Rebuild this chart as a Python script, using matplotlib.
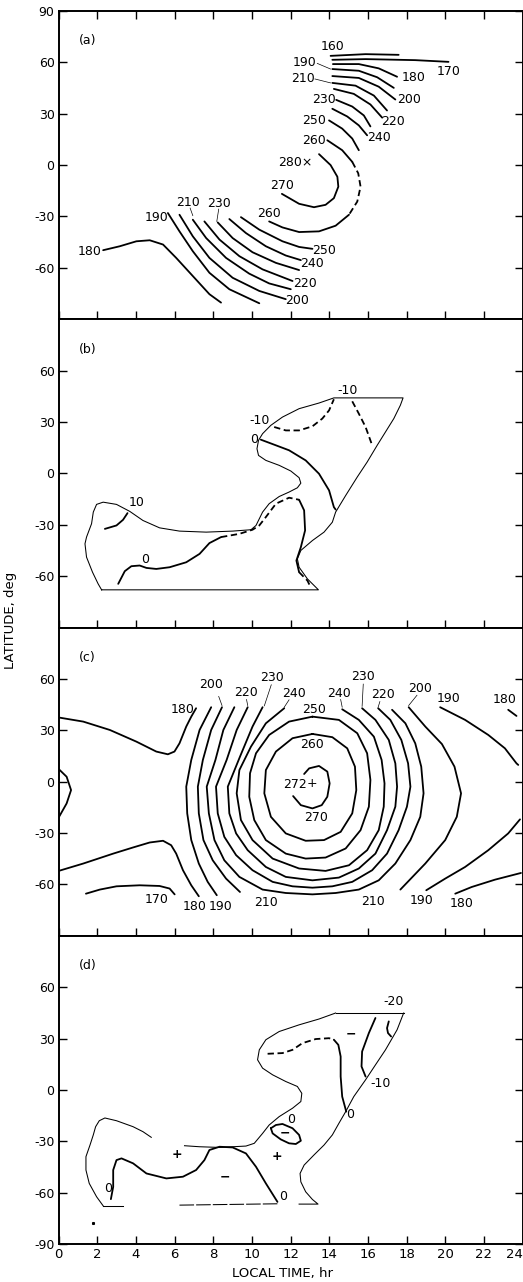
import numpy as np
import matplotlib
matplotlib.use('Agg')
import matplotlib.pyplot as plt

plt.rcParams['font.family'] = ['DejaVu Sans']

# ---------------- panel (a): temperature contours (K), points are (local time hr, latitude deg)
a_160 = [(14.07, 63.8), (15.88, 64.8), (17.59, 64.4)]
a_170 = [(14.16, 61.5), (15.88, 61.9), (18.45, 61.3), (20.17, 60.3)]
a_180 = [(14.19, 59.0), (15.53, 59.0), (16.56, 56.5), (17.51, 51.6)]
a_190 = [(14.16, 56.1), (15.53, 55.1), (16.48, 51.3), (17.34, 45.1)]
a_200 = [(14.16, 52.0), (15.53, 50.9), (16.56, 45.8), (17.42, 38.3)]
a_210 = [(14.16, 48.0), (15.36, 46.4), (16.31, 40.6), (16.99, 31.9)]
a_220 = [(14.24, 44.5), (15.27, 41.6), (16.13, 35.4), (16.74, 27.7)]
a_230 = [(14.36, 38.1), (15.19, 34.2), (15.79, 29.0), (16.13, 22.6)]
a_240 = [(14.16, 32.9), (14.93, 28.4), (15.53, 23.2), (15.96, 17.4)]
a_250 = [(13.99, 26.1), (14.67, 21.3), (15.19, 15.5), (15.53, 8.7)]
a_260_top = [(13.90, 14.5), (14.67, 8.7), (15.19, 1.9)]
a_260_gap = [(15.19, 1.9), (15.50, -4.8), (15.62, -12.6), (15.45, -21.3), (15.02, -29.0)]
a_260_bot = [(15.02, -29.0), (14.33, -35.4), (13.47, -38.7), (12.44, -39.1), (11.58, -36.4), (10.89, -32.9)]
a_270 = [(13.47, 6.4), (14.07, 0.0), (14.42, -6.8), (14.47, -12.6), (14.24, -19.3),
         (13.81, -23.2), (13.21, -24.6), (12.44, -22.6), (11.55, -16.8)]
a_s180 = [(2.30, -49.7), (3.16, -47.4), (4.02, -44.5), (4.71, -43.9), (5.40, -46.4),
          (6.08, -54.2), (6.94, -64.8), (7.80, -75.4), (8.40, -80.3)]
a_s190 = [(5.65, -28.0), (6.25, -38.7), (6.94, -50.3), (7.80, -62.9), (8.83, -72.5), (10.38, -80.7)]
a_s200 = [(6.25, -29.0), (6.94, -41.6), (7.80, -54.2), (9.00, -65.8), (10.38, -73.5), (11.75, -78.3)]
a_s210 = [(6.94, -31.9), (7.63, -42.6), (8.66, -54.2), (9.86, -63.4), (10.89, -69.1), (12.01, -72.5)]
a_s220 = [(7.54, -32.9), (8.32, -43.5), (9.35, -53.2), (10.55, -60.9), (12.10, -67.7)]
a_s230 = [(8.23, -33.5), (9.00, -42.6), (10.03, -50.9), (11.24, -57.1), (12.44, -61.3)]
a_s240 = [(8.83, -31.5), (9.69, -39.7), (10.72, -47.4), (11.75, -52.8), (12.53, -55.5)]
a_s250 = [(9.43, -30.4), (10.38, -37.7), (11.58, -44.5), (12.44, -47.8), (13.13, -48.9)]
a_leaders = [[(13.38, 59.4), (14.07, 56.1)], [(13.26, 50.3), (14.07, 48.0)],
             [(6.80, -25.1), (6.94, -29.5)], [(8.28, -25.7), (8.18, -32.9)]]
a_labels = [('160', 14.16, 69.1), ('190', 12.70, 60.0), ('210', 12.65, 50.7), ('170', 20.17, 54.5),
            ('180', 18.37, 50.9), ('200', 18.11, 38.1), ('230', 13.73, 38.3), ('220', 17.28, 25.7),
            ('250', 13.21, 26.1), ('240', 16.56, 16.1), ('260', 13.21, 14.5), ('280\u00d7', 12.25, 1.5),
            ('270', 11.58, -12.0), ('260', 10.89, -28.0), ('210', 6.68, -21.9), ('230', 8.32, -22.2),
            ('190', 5.05, -30.6), ('180', 1.62, -50.3), ('250', 13.73, -49.7), ('240', 13.13, -57.6),
            ('220', 12.75, -69.1), ('200', 12.35, -79.3)]

# ---------------- panel (b): differences
b_edge = [(2.22, -68.0), (13.44, -68.0), (12.87, -61.6), (12.44, -54.8), (12.35, -49.9), (12.53, -45.0),
          (13.13, -39.2), (13.73, -34.3), (14.16, -28.5), (14.33, -22.6), (14.85, -12.9), (15.45, -2.1),
          (15.96, 6.6), (16.48, 16.4), (16.91, 24.2), (17.34, 32.0), (17.68, 39.8), (17.82, 44.1),
          (14.24, 44.1), (13.47, 41.1), (12.44, 37.8), (11.58, 32.9), (10.98, 28.1), (10.55, 23.2),
          (10.34, 19.3), (10.26, 14.4), (10.34, 10.5), (10.72, 7.6), (11.41, 4.7), (12.01, 1.4),
          (12.44, -2.5), (12.53, -5.7), (12.35, -8.4), (11.92, -10.9), (11.41, -13.5), (10.89, -17.7),
          (10.55, -22.6), (10.21, -30.4), (9.95, -32.9), (9.00, -33.7), (7.63, -34.3), (6.25, -33.7),
          (5.22, -31.8), (4.36, -27.5), (3.68, -22.2), (2.99, -18.1), (2.30, -16.8), (1.96, -18.1),
          (1.79, -22.6), (1.70, -29.4), (1.44, -37.2), (1.36, -41.1), (1.44, -48.9), (1.75, -57.7),
          (2.04, -64.5), (2.22, -68.0)]
b_p10 = [(2.39, -32.4), (2.99, -30.4), (3.33, -27.1), (3.56, -23.2)]
b_0_low = [(3.08, -64.5), (3.42, -57.1), (3.76, -54.2), (4.19, -53.8), (4.54, -55.2), (5.05, -55.8),
           (5.74, -54.8), (6.60, -51.9), (7.29, -47.0), (7.80, -40.7), (8.40, -37.2)]
b_0_dash = [(8.40, -37.2), (9.35, -35.3), (10.03, -32.9), (10.38, -30.4), (10.72, -25.5),
            (11.24, -17.7), (11.92, -14.2), (12.44, -15.4)]
b_0_arm = [(12.44, -15.4), (12.70, -21.6), (12.75, -33.3), (12.53, -43.1), (12.30, -50.9), (12.44, -57.7)]
b_0_tail = [(12.44, -57.7), (12.87, -62.6), (13.04, -66.5)]
b_0_up = [(10.46, 19.7), (11.24, 16.4), (11.92, 13.5), (12.78, 7.6), (13.47, -0.2), (13.99, -9.9),
          (14.24, -19.7), (14.33, -21.1)]
b_m10_left = [(11.15, 27.1), (11.75, 25.1), (12.44, 25.1), (13.13, 27.5), (13.64, 32.0), (13.99, 36.8),
              (14.24, 43.3)]
b_m10_right = [(15.19, 42.1), (15.53, 34.9), (15.88, 27.1), (16.18, 17.7)]
b_labels = [('10', 4.02, -16.8), ('0', 4.48, -50.5), ('0', 10.12, 19.9), ('-10', 10.38, 31.0),
            ('-10', 14.93, 48.5)]

# ---------------- panel (c): model temperature contours
c_180_up = [(0.0, 37.5), (1.27, 35.1), (2.65, 30.2), (4.02, 23.4), (5.05, 17.6), (5.65, 16.0),
            (5.99, 17.6), (6.25, 22.4), (6.60, 32.2), (6.86, 38.0), (7.11, 42.9)]
c_180_low = [(0.0, -52.1), (1.27, -47.8), (2.82, -42.0), (3.85, -38.4), (4.71, -35.5), (5.40, -34.5),
             (5.82, -37.1), (6.08, -42.0), (6.43, -51.7), (6.86, -60.5), (7.25, -66.9)]
c_lobe = [(0.0, 7.4), (0.41, 2.9), (0.64, -4.9), (0.41, -12.7), (0.0, -20.9)]
c_170 = [(1.41, -65.4), (2.13, -63.0), (2.99, -61.1), (4.19, -60.5), (5.22, -60.9), (5.74, -62.4),
         (6.00, -65.8)]
c_190_l = [(7.89, 43.5), (7.29, 30.2), (6.86, 12.7), (6.60, -2.9), (6.65, -18.5), (6.86, -34.1),
           (7.25, -47.8), (7.71, -58.5), (8.18, -66.3)]
c_200_l = [(8.45, 43.5), (7.89, 30.2), (7.46, 12.7), (7.20, -2.9), (7.25, -18.5), (7.49, -34.1),
           (7.97, -45.9), (8.66, -56.6), (9.38, -64.4)]
c_210 = [(9.09, 43.5), (8.52, 30.2), (8.11, 12.7), (7.66, -2.9), (7.77, -18.5), (8.06, -34.1),
         (8.57, -45.9), (9.35, -55.6), (10.55, -63.0), (11.75, -65.0), (13.13, -65.8), (14.33, -65.0),
         (15.53, -63.0), (16.56, -57.6), (17.42, -47.8), (18.20, -34.1), (18.71, -20.5), (18.88, -6.8),
         (18.76, 8.8), (18.45, 22.4), (17.94, 34.1), (17.25, 42.0)]
c_220 = [(9.78, 43.5), (9.21, 30.2), (8.69, 12.7), (8.14, -2.9), (8.23, -18.5), (8.57, -32.2),
         (9.18, -42.9), (10.03, -51.7), (11.07, -58.5), (12.10, -61.1), (13.13, -61.9), (14.16, -61.1),
         (15.19, -58.5), (16.22, -51.7), (16.99, -42.0), (17.59, -28.3), (18.02, -14.6), (18.20, -2.9),
         (18.08, 10.7), (17.73, 24.4), (17.16, 36.1), (16.53, 42.9)]
c_230 = [(10.55, 43.5), (10.03, 32.2), (9.38, 14.6), (8.75, -2.9), (8.83, -18.5), (9.18, -30.2),
         (9.78, -40.0), (10.72, -49.8), (11.75, -55.6), (13.13, -57.6), (14.50, -56.0), (15.53, -50.7),
         (16.39, -42.0), (16.99, -28.3), (17.42, -14.6), (17.51, -2.9), (17.42, 10.7), (17.08, 24.4),
         (16.39, 36.1), (15.70, 42.9)]
c_240 = [(11.67, 42.9), (10.72, 34.1), (9.95, 20.5), (9.35, 6.8), (9.21, -6.8), (9.43, -22.4),
         (10.03, -34.1), (11.07, -44.9), (12.44, -50.7), (13.81, -52.1), (15.02, -48.8), (15.96, -40.0),
         (16.56, -28.3), (16.82, -14.6), (16.86, -1.0), (16.71, 12.7), (16.31, 26.3), (15.53, 36.1),
         (14.67, 42.3)]
c_250 = [(13.13, 38.0), (14.50, 36.1), (15.45, 28.3), (15.96, 16.6), (16.13, 1.0), (16.05, -14.6),
         (15.62, -28.3), (14.85, -39.0), (13.81, -44.3), (12.78, -44.9), (11.75, -42.0), (10.72, -34.1),
         (10.12, -22.4), (9.86, -8.8), (9.90, 4.9), (10.21, 16.6), (10.89, 27.3), (11.92, 35.1),
         (13.13, 38.0)]
c_260 = [(13.13, 27.9), (14.16, 26.0), (14.93, 19.5), (15.33, 8.8), (15.40, -4.9), (15.19, -18.5),
         (14.59, -29.3), (13.73, -34.1), (12.78, -34.5), (11.75, -30.2), (10.98, -20.5), (10.64, -6.8),
         (10.72, 6.8), (11.24, 17.6), (12.10, 25.4), (13.13, 27.9)]
c_270 = [(12.70, 4.5), (12.96, 7.8), (13.47, 9.2), (13.90, 5.9), (14.02, -1.0), (13.90, -8.8),
         (13.61, -13.7), (13.13, -15.6), (12.53, -13.7), (12.13, -8.4)]
c_200_r = [(18.11, 43.5), (18.97, 32.2), (19.83, 22.0), (20.48, 8.8), (20.82, -6.8), (20.60, -20.5),
           (20.00, -34.1), (18.97, -47.8), (17.68, -63.0)]
c_190_r_up = [(19.74, 43.5), (21.03, 36.1), (22.23, 27.3), (23.09, 19.5), (23.69, 10.7), (23.78, 9.8)]
c_190_r_low = [(23.87, -22.0), (23.26, -30.2), (22.23, -40.0), (21.03, -49.8), (20.00, -56.6),
               (19.02, -63.4)]
c_180_r_up = [(23.26, 42.0), (23.69, 38.4)]
c_180_r_low = [(20.52, -65.4), (21.37, -61.5), (22.58, -57.2), (23.92, -53.3)]
c_leaders = [[(8.28, 49.8), (8.45, 44.5)], [(9.72, 48.0), (9.78, 44.5)], [(11.00, 56.6), (10.64, 44.3)],
             [(11.92, 47.8), (11.67, 43.5)], [(14.59, 48.0), (14.67, 43.5)], [(15.76, 57.0), (15.70, 44.0)],
             [(16.62, 46.8), (16.53, 43.5)], [(18.54, 50.5), (18.11, 44.5)]]
c_labels = [('180', 6.39, 42.3), ('200', 7.89, 56.6), ('220', 9.69, 52.1), ('230', 11.03, 61.1),
            ('240', 12.18, 51.7), ('250', 13.21, 42.3), ('260', 13.13, 22.0), ('272', 12.23, -1.4),
            ('+', 13.13, -1.0), ('270', 13.30, -20.9), ('240', 14.50, 51.7), ('230', 15.76, 61.5),
            ('220', 16.77, 50.7), ('200', 18.71, 54.6), ('190', 20.17, 48.4), ('180', 23.06, 47.8),
            ('170', 5.05, -68.9), ('180', 7.03, -72.8), ('190', 8.40, -72.8), ('210', 10.72, -70.8),
            ('210', 16.25, -69.7), ('190', 18.80, -69.3), ('180', 20.86, -71.2)]

# ---------------- panel (d): differences
d_top = [(14.33, 44.9), (17.85, 44.9)]
d_right = [(17.85, 44.9), (17.51, 35.1), (16.91, 23.4), (16.39, 14.6), (15.88, 5.9), (15.27, -3.9),
           (14.85, -12.7), (14.50, -19.5), (14.16, -26.3), (13.73, -32.2), (13.21, -38.0), (12.70, -43.9),
           (12.49, -48.8), (12.53, -53.7), (12.78, -59.5), (13.13, -64.0), (13.42, -66.7), (12.44, -66.7)]
d_bottom = [(6.25, -67.3), (11.41, -66.5)]
d_bottom_left = [(2.30, -67.7), (3.33, -67.7)]
d_left = [(2.30, -67.7), (1.96, -62.4), (1.58, -54.6), (1.41, -46.8), (1.41, -39.0), (1.62, -32.2),
          (1.79, -26.3), (1.91, -21.5), (2.10, -18.0), (2.39, -16.4), (2.99, -18.0), (3.85, -21.5),
          (4.36, -24.4), (4.79, -27.7)]
d_mid = [(6.51, -32.6), (7.29, -33.2), (8.32, -33.6), (9.00, -33.2), (9.69, -32.8), (10.12, -31.2),
         (10.55, -25.4), (10.89, -20.5), (11.41, -15.6), (12.10, -10.7), (12.53, -6.8), (12.58, -2.0),
         (12.35, 2.0), (11.75, 4.9), (11.07, 8.8), (10.55, 12.7), (10.29, 17.6), (10.38, 23.4),
         (10.72, 29.3), (11.41, 34.1), (12.44, 38.0), (13.47, 41.4), (14.33, 44.9)]
d_dash = [(10.81, 21.1), (11.58, 21.5), (12.10, 23.4), (12.61, 27.3), (13.30, 29.7), (13.99, 30.2),
          (14.24, 29.3)]
d_0_up = [(14.24, 29.3), (14.47, 26.3), (14.59, 19.5), (14.59, 7.8), (14.67, -3.9), (14.88, -12.7)]
d_m10 = [(16.39, 42.0), (16.05, 33.2), (15.70, 22.4), (15.67, 13.7), (15.88, 7.8)]
d_m20 = [(17.08, 40.0), (16.99, 36.1), (17.04, 33.2), (17.20, 31.2)]
d_0_low = [(2.70, -63.8), (2.82, -56.6), (2.82, -46.8), (2.99, -41.0), (3.25, -40.0), (3.85, -42.9),
           (4.54, -48.8), (5.57, -51.7), (6.43, -50.7), (7.11, -46.8), (7.54, -41.0), (7.80, -35.1),
           (8.32, -33.2), (9.00, -33.6), (9.69, -37.1), (10.21, -44.9), (10.72, -54.6), (11.32, -65.4)]
d_loop = [(10.98, -22.4), (11.24, -20.5), (11.58, -19.9), (12.10, -22.4), (12.44, -26.3), (12.53, -29.7),
          (12.27, -31.6), (11.92, -31.2), (11.49, -28.9), (11.07, -25.4), (10.98, -22.4)]
d_labels = [('-20', 17.34, 51.7), ('-10', 16.65, 3.5), ('0', 15.10, -14.6), ('0', 12.01, -17.0),
            ('0', 2.56, -57.6), ('0', 11.62, -62.0)]
d_signs = [('\u2212', 15.10, 32.6), ('\u2212', 11.70, -25.4), ('+', 6.13, -38.0), ('+', 11.29, -39.0),
           ('\u2212', 8.61, -50.7)]

hours = list(range(0, 25, 2))
lat_ticks = [-60, -30, 0, 30, 60]
panel_names = ['(a)', '(b)', '(c)', '(d)']

W, H = 523, 1282
fig = plt.figure(figsize=(W/100., H/100.), dpi=100)

left = 58.7/W
right = 522.5/W
tops = [11., 319.3, 627.6, 935.8]
ph = 308.2

solid = dict(color='black', lw=1.3, solid_capstyle='round')
thin = dict(color='black', lw=0.75)
dash = dict(color='black', lw=1.3, ls=(0, (3.5, 2)))
lead = dict(color='black', lw=0.5)

def line(ax, p, style):
  x, y = zip(*p)
  ax.plot(x, y, **style)

def labels(ax, lab, **kw):
  for s, x, y in lab:
    ax.text(x, y, s, ha='center', va='center', fontsize=9, **kw)

axs = []
for i, t in enumerate(tops):
  ax = fig.add_axes([left, 1 - (t + ph)/H, right - left, ph/H])
  ax.set_xlim(0., 24.)
  ax.set_ylim(-90., 90.)
  ax.set_xticks(hours)
  yt = list(lat_ticks)
  if i == 0: yt = yt + [90]
  if i == 3: yt = [-90] + yt
  ax.set_yticks(yt)
  ax.set_yticklabels(['%d' % v for v in yt], fontsize=9)
  ax.tick_params(direction='in', length=6, width=1., top=(i == 0), right=True, pad=3)
  if i == 3:
    ax.set_xticklabels(['%d' % h for h in hours], fontsize=9.5)
    # last label sits against the figure edge
    ax.get_xticklabels()[-1].set_horizontalalignment('right')
  else:
    ax.set_xticklabels([])
  for sp in ax.spines.values():
    sp.set_linewidth(1.4)
  ax.text(1.05, 72.5, panel_names[i], ha='left', va='center', fontsize=9)
  axs.append(ax)

# (a)
ax = axs[0]
for p in [a_160, a_170, a_180, a_190, a_200, a_210, a_220, a_230, a_240, a_250, a_260_top, a_260_bot,
          a_270, a_s180, a_s190, a_s200, a_s210, a_s220, a_s230, a_s240, a_s250]:
  line(ax, p, solid)
line(ax, a_260_gap, dash)
for p in a_leaders:
  line(ax, p, lead)
labels(ax, a_labels)

# (b)
ax = axs[1]
line(ax, b_edge, thin)
for p in [b_p10, b_0_low, b_0_arm, b_0_up]:
  line(ax, p, solid)
for p in [b_0_dash, b_0_tail, b_m10_left, b_m10_right]:
  line(ax, p, dash)
labels(ax, b_labels)

# (c)
ax = axs[2]
for p in [c_180_up, c_180_low, c_lobe, c_170, c_190_l, c_200_l, c_210, c_220, c_230, c_240, c_250,
          c_260, c_270, c_200_r, c_190_r_up, c_190_r_low, c_180_r_up, c_180_r_low]:
  line(ax, p, solid)
for p in c_leaders:
  line(ax, p, lead)
labels(ax, c_labels)

# (d)
ax = axs[3]
for p in [d_top, d_right, d_bottom_left, d_left, d_mid]:
  line(ax, p, thin)
line(ax, d_bottom, dict(color='black', lw=0.75, ls=(0, (14, 2))))
line(ax, d_dash, dash)
for p in [d_0_up, d_m10, d_m20, d_0_low, d_loop]:
  line(ax, p, solid)
labels(ax, d_labels)
labels(ax, d_signs, fontweight='bold')
ax.plot([1.75], [-78.], marker='s', ms=1.2, color='black')

fig.text(11./W, 1 - 620./H, 'LATITUDE, deg', rotation=90, ha='center', va='center', fontsize=9.5)
fig.text(282./W, 1 - 1273./H, 'LOCAL TIME, hr', ha='center', va='center', fontsize=9.5)

fig.savefig('out.png', dpi=100)
